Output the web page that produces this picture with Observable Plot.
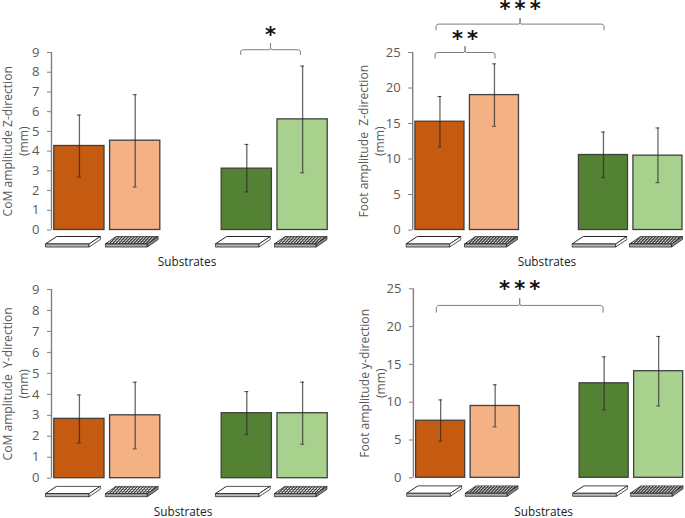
<!DOCTYPE html>
<html><head><meta charset="utf-8">
<script src="https://cdn.jsdelivr.net/npm/d3@7"></script>
<script src="https://cdn.jsdelivr.net/npm/@observablehq/plot@0.6"></script>
<style>
html,body{margin:0;padding:0;background:#fff}
#c{position:relative;width:685px;height:518px;overflow:hidden}
#c>svg{position:absolute;overflow:visible}
</style></head><body><div id="c"></div>
<script>
const slots = [0, 1, 3, 4];
const fills = ["#c55a11", "#f4b183", "#548235", "#a9d18e"];
const iconDx = [-6.5, -3.5, -4, -2];
const iconW = [56, 54, 56, 54];

const comZ = [4.26, 4.53, 3.11, 5.61];
const comZLow = [2.69, 2.18, 1.93, 2.9];
const comZHigh = [5.83, 6.86, 4.34, 8.31];

const footZ = [15.25, 19.0, 10.56, 10.47];
const footZLow = [11.7, 14.6, 7.37, 6.67];
const footZHigh = [18.8, 23.4, 13.8, 14.37];

const comY = [2.83, 3.0, 3.1, 3.1];
const comYLow = [1.68, 1.4, 2.07, 1.62];
const comYHigh = [3.97, 4.58, 4.13, 4.58];

const footY = [7.55, 9.5, 12.5, 14.1];
const footYLow = [4.85, 6.74, 8.99, 9.5];
const footYHigh = [10.3, 12.3, 16.0, 18.7];

const plain = "data:image/svg+xml," + encodeURIComponent(`<svg xmlns="http://www.w3.org/2000/svg" viewBox="0 0 57 12"><path d="M.5 8 12 .5H56.5L45 8Z" fill="#fff" stroke="#222"/><path d="M.5 8H45V11H.5Z" fill="#bbb" stroke="#222" stroke-width=".8"/><path d="M45 8 56.5 .5V3.5L45 11Z" fill="#fff" stroke="#222" stroke-width=".8"/></svg>`);
const dotted = "data:image/svg+xml," + encodeURIComponent(`<svg xmlns="http://www.w3.org/2000/svg" viewBox="0 0 57 12"><defs><pattern id="p" width="3.2" height="1.9" patternUnits="userSpaceOnUse" patternTransform="skewX(-45)"><rect width="3.2" height="1.9" fill="#444"/><circle cx="1.6" cy=".95" r=".8" fill="#fff"/></pattern></defs><path d="M.5 8 12 .5H56.5L45 8Z" fill="url(#p)" stroke="#222" stroke-width=".7"/><path d="M.5 8H45V11H.5Z" fill="#aaa" stroke="#222" stroke-width=".8"/><path d="M45 8 56.5 .5V3.5L45 11Z" fill="#888" stroke="#222" stroke-width=".8"/></svg>`);

const panels = [
  {left: 0, top: 0, w: 340, h: 262, ml: 51, mr: 10, mt: 52, mb: 32.5, max: 9, step: 1, labelDx: -37, iconDy: 12, subDy: 36, subDx: -4,
   label: "CoM amplitude Z-direction\n(mm)", values: comZ, low: comZLow, high: comZHigh,
   brackets: [{stars: "*", from: 2.89, to: 3.96, y: 9.14, foot: 8.9, up: 0.34, dy: -14}]},
  {left: 345, top: 0, w: 340, h: 262, ml: 67.2, mr: 0.3, mt: 52, mb: 32.5, max: 25, step: 5, labelDx: -41.5, iconDy: 12, subDy: 36, subDx: -2,
   label: "Foot amplitude  Z-direction\n(mm)", values: footZ, low: footZLow, high: footZHigh,
   brackets: [{stars: "*\u2009*", from: -0.09, to: 1.01, y: 25, foot: 24.2, up: 0.9, dy: -13},
              {stars: "*\u2009*\u2009*", from: -0.07, to: 3.01, y: 29, foot: 28.2, up: 0.85, dy: -15}]},
  {left: 0, top: 260, w: 340, h: 258, ml: 51, mr: 10, mt: 29, mb: 40.3, max: 9, step: 1, labelDx: -37, iconDy: 13.5, subDy: 38, subDx: -8,
   label: "CoM amplitude  Y-direction\n(mm)", values: comY, low: comYLow, high: comYHigh, brackets: []},
  {left: 345, top: 260, w: 341, h: 258, ml: 67.9, mr: 0.6, mt: 28.3, mb: 40.7, max: 25, step: 5, labelDx: -41.5, iconDy: 13.5, subDy: 38, subDx: -6,
   label: "Foot amplitude y-direction\n(mm)", values: footY, low: footYLow, high: footYHigh,
   brackets: [{stars: "*\u2009*\u2009*", from: -0.08, to: 2.98, y: 22.8, foot: 21.9, up: 0.95, dy: -16}]}
];

function bracketPath(b) {
  const mid = (b.from + b.to) / 2, cx = 0.035, cy = (b.y - b.foot) * 0.25;
  return [
    [b.from, b.foot], [b.from, b.y - cy], [b.from + cx, b.y],
    [mid - cx / 2, b.y], [mid, b.y + b.up * 0.3], [mid, b.y + b.up], [mid, b.y + b.up * 0.3], [mid + cx / 2, b.y],
    [b.to - cx, b.y], [b.to, b.y - cy], [b.to, b.foot]
  ];
}

function panel(p) {
  const rows = slots.map((s, i) => ({s, i, v: p.values[i], lo: p.low[i], hi: p.high[i], fill: fills[i], src: i % 2 ? dotted : plain}));
  const ticks = d3.range(0, p.max + p.step, p.step);
  const half = 0.45, cap = 0.035;
  const bracketMarks = p.brackets.flatMap(b => [
    Plot.line(bracketPath(b), {x: d => d[0], y: d => d[1], stroke: "#7f7f7f", strokeWidth: 1}),
    Plot.text([b.stars], {x: (b.from + b.to) / 2, y: b.y, text: d => d, dy: b.dy, fontSize: 21, fontWeight: 700, fill: "#111", fontFamily: "DejaVu Sans"})
  ]);
  const iconMarks = rows.map(r => Plot.image([r], {x: d => d.s, y: 0, src: d => d.src, width: iconW[r.i], height: 12, dx: iconDx[r.i], dy: p.iconDy, preserveAspectRatio: "none"}));
  const svg = Plot.plot({
    width: p.w, height: p.h,
    marginLeft: p.ml, marginRight: p.mr, marginTop: p.mt, marginBottom: p.mb,
    style: {fontFamily: "Open Sans", background: "transparent", overflow: "visible"},
    x: {domain: [-0.5, 4.5], axis: null},
    y: {domain: [0, p.max], axis: null},
    marks: [
      Plot.axisY({ticks, tickSize: 4, tickFormat: d => d, fontSize: 13, color: "#595959", stroke: "#808080", label: null, tickPadding: 8}),
      Plot.ruleX([-0.5], {stroke: "#808080", strokeWidth: 1.4}),
      Plot.rect(rows, {x1: d => d.s - half, x2: d => d.s + half, y1: 0, y2: d => d.v, fill: d => d.fill, stroke: "#404040", strokeWidth: 1.3}),
      Plot.ruleX(rows, {x: d => d.s, y1: d => d.lo, y2: d => d.hi, stroke: "#262626", strokeOpacity: 0.7, strokeWidth: 1.3}),
      Plot.ruleY(rows, {y: d => d.lo, x1: d => d.s - cap, x2: d => d.s + cap, stroke: "#262626", strokeOpacity: 0.8}),
      Plot.ruleY(rows, {y: d => d.hi, x1: d => d.s - cap, x2: d => d.s + cap, stroke: "#262626", strokeOpacity: 0.8}),
      ...iconMarks,
      Plot.text(["Substrates"], {frameAnchor: "bottom", dy: p.subDy, dx: p.subDx, fontSize: 11.8, fill: "#222"}),
      Plot.text([p.label], {frameAnchor: "left", textAnchor: "middle", dx: p.labelDx, rotate: -90, fontSize: 12.1, fill: "#595959", lineHeight: 1.32}),
      ...bracketMarks
    ]
  });
  svg.style.left = p.left + "px";
  svg.style.top = p.top + "px";
  return svg;
}
const root = document.getElementById("c");
panels.forEach(p => root.appendChild(panel(p)));
</script></body></html>
